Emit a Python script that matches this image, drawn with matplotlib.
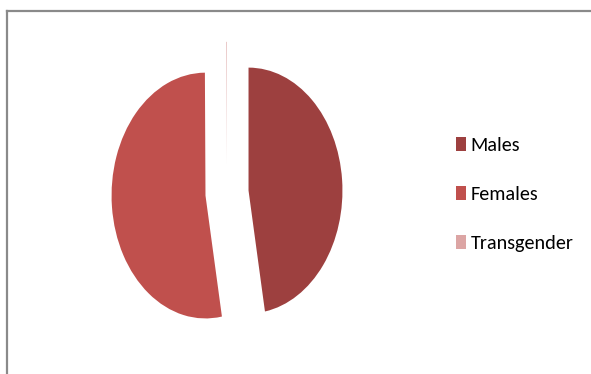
import matplotlib
matplotlib.use("Agg")
import matplotlib.pyplot as plt
from matplotlib.lines import Line2D
from matplotlib.patches import Patch

# data (percent)
labels = ["Males", "Females", "Transgender"]
shares = [47.2, 52.7, 0.1]
colors = ["#9D403F", "#C0504D", "#DCA5A4"]

W, H = 591, 374
fig = plt.figure(figsize=(W / 100, H / 100), dpi=100)

# pie drawn on an axes with unequal scale so it comes out as a tall ellipse
ax = fig.add_axes([0.1616, 0.024, 0.445, 0.92])
wedges, _ = ax.pie(shares, colors=colors, startangle=90, counterclock=False,
                   explode=[0.23, 0.23, 0.23], radius=1.0,
                   wedgeprops=dict(linewidth=0))
ax.set_aspect("auto")
ax.set_xlim(-1.4, 1.4)
ax.set_ylim(-1.4, 1.4)
ax.axis("off")

# legend on the right
handles = [Patch(facecolor=c, edgecolor="none") for c in colors]
fig.legend(handles, labels, loc="center left", bbox_to_anchor=(0.758, 0.48),
           frameon=False, prop={"family": "Carlito", "size": 14.5},
           labelspacing=1.58, handlelength=0.5, handleheight=0.72,
           handletextpad=0.22, borderaxespad=0)

# grey chart border (top and left edges visible)
x0 = 6.5 / W
y0 = 1 - 10.5 / H
fig.add_artist(Line2D([x0, 1], [y0, y0], color="#8A8A8A", lw=1.6,
                      transform=fig.transFigure))
fig.add_artist(Line2D([x0, x0], [0, y0], color="#8A8A8A", lw=1.6,
                      transform=fig.transFigure))

fig.savefig("out.png", dpi=100)
